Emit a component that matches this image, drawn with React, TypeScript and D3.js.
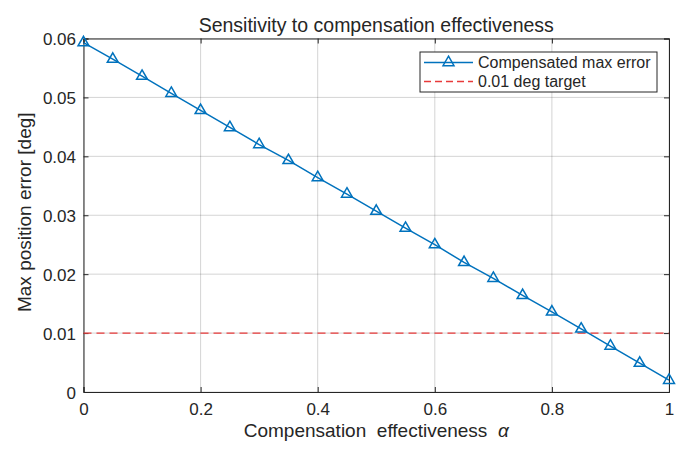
import React, { useEffect, useRef } from "react";
import * as d3 from "d3";

// Chart data
const alphaValues = [
  0, 0.05, 0.1, 0.15, 0.2, 0.25, 0.3, 0.35, 0.4, 0.45, 0.5, 0.55, 0.6, 0.65,
  0.7, 0.75, 0.8, 0.85, 0.9, 0.95, 1,
];
const maxErrorValues = [
  0.0593, 0.0565, 0.0536, 0.0507, 0.0478, 0.0449, 0.042, 0.0393, 0.0364,
  0.0336, 0.0307, 0.0278, 0.025, 0.022, 0.0193, 0.0164, 0.0136, 0.0107,
  0.0078, 0.0049, 0.002,
];
const targetValue = 0.01;
const xTicks = [0, 0.2, 0.4, 0.6, 0.8, 1];
const yTicks = [0, 0.01, 0.02, 0.03, 0.04, 0.05, 0.06];
const legendLabels = ["Compensated max error", "0.01 deg target"];

const W = 694;
const H = 458;

const App = () => {
  const ref = useRef(null);

  useEffect(() => {
    const svg = d3.select(ref.current);
    svg.selectAll("*").remove();

    const margin = { top: 38.5, right: 25, bottom: 66, left: 83.5 };
    const width = W - margin.left - margin.right;
    const height = H - margin.top - margin.bottom;
    const font = "'Liberation Sans', Arial, sans-serif";
    const ink = "#262626";

    const x = d3.scaleLinear().domain([0, 1]).range([0, width]);
    const y = d3.scaleLinear().domain([0, 0.06]).range([height, 0]);

    const g = svg
      .append("g")
      .attr("transform", `translate(${margin.left},${margin.top})`);

    // grid
    g.append("g")
      .selectAll("line")
      .data(xTicks)
      .enter()
      .append("line")
      .attr("x1", (d) => x(d))
      .attr("x2", (d) => x(d))
      .attr("y1", 0)
      .attr("y2", height)
      .attr("stroke", ink)
      .attr("stroke-opacity", 0.2);
    g.append("g")
      .selectAll("line")
      .data(yTicks)
      .enter()
      .append("line")
      .attr("y1", (d) => y(d))
      .attr("y2", (d) => y(d))
      .attr("x1", 0)
      .attr("x2", width)
      .attr("stroke", ink)
      .attr("stroke-opacity", 0.2);

    // axes, ticks pointing inward, box on
    const tick = 5;
    const xAxis = g
      .append("g")
      .attr("transform", `translate(0,${height})`)
      .call(d3.axisBottom(x).tickValues(xTicks).tickSize(-tick).tickPadding(11).tickFormat(d3.format("")));
    const yAxis = g
      .append("g")
      .call(d3.axisLeft(y).tickValues(yTicks).tickSize(-tick).tickPadding(7.5).tickFormat((d) => (d === 0 ? "0" : d3.format(".2f")(d))));
    const xTop = g
      .append("g")
      .call(d3.axisTop(x).tickValues(xTicks).tickSize(-tick).tickFormat(() => ""));
    const yRight = g
      .append("g")
      .attr("transform", `translate(${width},0)`)
      .call(d3.axisRight(y).tickValues(yTicks).tickSize(-tick).tickFormat(() => ""));

    [xAxis, yAxis, xTop, yRight].forEach((a) => {
      a.selectAll("path").attr("stroke", ink).attr("stroke-width", 1);
      a.selectAll("line").attr("stroke", ink);
      a.selectAll("text")
        .attr("fill", ink)
        .style("font-family", font)
        .style("font-size", "17px");
    });
    yAxis.selectAll("text").attr("dy", "0.36em");

    // target line
    g.append("line")
      .attr("x1", x(0))
      .attr("x2", x(1))
      .attr("y1", y(targetValue))
      .attr("y2", y(targetValue))
      .attr("stroke", "#e83a3a")
      .attr("stroke-width", 1.3)
      .attr("stroke-dasharray", "8,5");

    const points = alphaValues.map((a, i) => [a, maxErrorValues[i]] as [number, number]);

    g.append("path")
      .datum(points)
      .attr("fill", "none")
      .attr("stroke", "#0072BD")
      .attr("stroke-width", 1.5)
      .attr("d", d3.line<[number, number]>().x((d) => x(d[0])).y((d) => y(d[1])));

    const tri = d3.symbol().type(d3.symbolTriangle).size(52);
    g.append("g")
      .selectAll("path")
      .data(points)
      .enter()
      .append("path")
      .attr("transform", (d) => `translate(${x(d[0])},${y(d[1])})`)
      .attr("d", tri())
      .attr("fill", "none")
      .attr("stroke", "#0072BD")
      .attr("stroke-width", 1.5);

    // title and labels
    svg
      .append("text")
      .attr("x", margin.left + width / 2)
      .attr("y", 32)
      .attr("text-anchor", "middle")
      .attr("fill", ink)
      .style("font-family", font)
      .style("font-size", "19.5px")
      .text("Sensitivity to compensation effectiveness");

    const xl = svg
      .append("text")
      .attr("x", margin.left + width / 2)
      .attr("y", 437)
      .attr("text-anchor", "middle")
      .attr("fill", ink)
      .style("font-family", font)
      .style("font-size", "19px");
    xl.append("tspan").text("Compensation\u00a0 effectiveness\u00a0 ");
    xl.append("tspan").style("font-style", "italic").text("α");

    svg
      .append("text")
      .attr("transform", `translate(31,${margin.top + height / 2 - 3}) rotate(-90)`)
      .attr("text-anchor", "middle")
      .attr("fill", ink)
      .style("font-family", font)
      .style("font-size", "19px")
      .text("Max position error [deg]");

    // legend
    const lg = svg.append("g").attr("transform", "translate(420,52)");
    lg.append("rect")
      .attr("width", 237)
      .attr("height", 40)
      .attr("fill", "white")
      .attr("stroke", ink)
      .attr("stroke-width", 1);
    lg.append("line")
      .attr("x1", 4)
      .attr("x2", 53)
      .attr("y1", 10.5)
      .attr("y2", 10.5)
      .attr("stroke", "#0072BD")
      .attr("stroke-width", 1.5);
    lg.append("path")
      .attr("transform", "translate(28.5,10.5)")
      .attr("d", tri())
      .attr("fill", "none")
      .attr("stroke", "#0072BD")
      .attr("stroke-width", 1.5);
    lg.append("line")
      .attr("x1", 4)
      .attr("x2", 53)
      .attr("y1", 29.5)
      .attr("y2", 29.5)
      .attr("stroke", "#e83a3a")
      .attr("stroke-width", 1.3)
      .attr("stroke-dasharray", "7,4");
    lg.selectAll("text.lbl")
      .data(legendLabels)
      .enter()
      .append("text")
      .attr("class", "lbl")
      .attr("x", 58)
      .attr("y", (_, i) => 10.5 + i * 19)
      .attr("dy", "0.36em")
      .attr("fill", ink)
      .style("font-family", font)
      .style("font-size", "16px")
      .text((d) => d);
  }, []);

  return (
    <svg
      ref={ref}
      width={W}
      height={H}
      style={{ position: "absolute", left: 0, top: 0, background: "white" }}
    />
  );
};

export default App;
